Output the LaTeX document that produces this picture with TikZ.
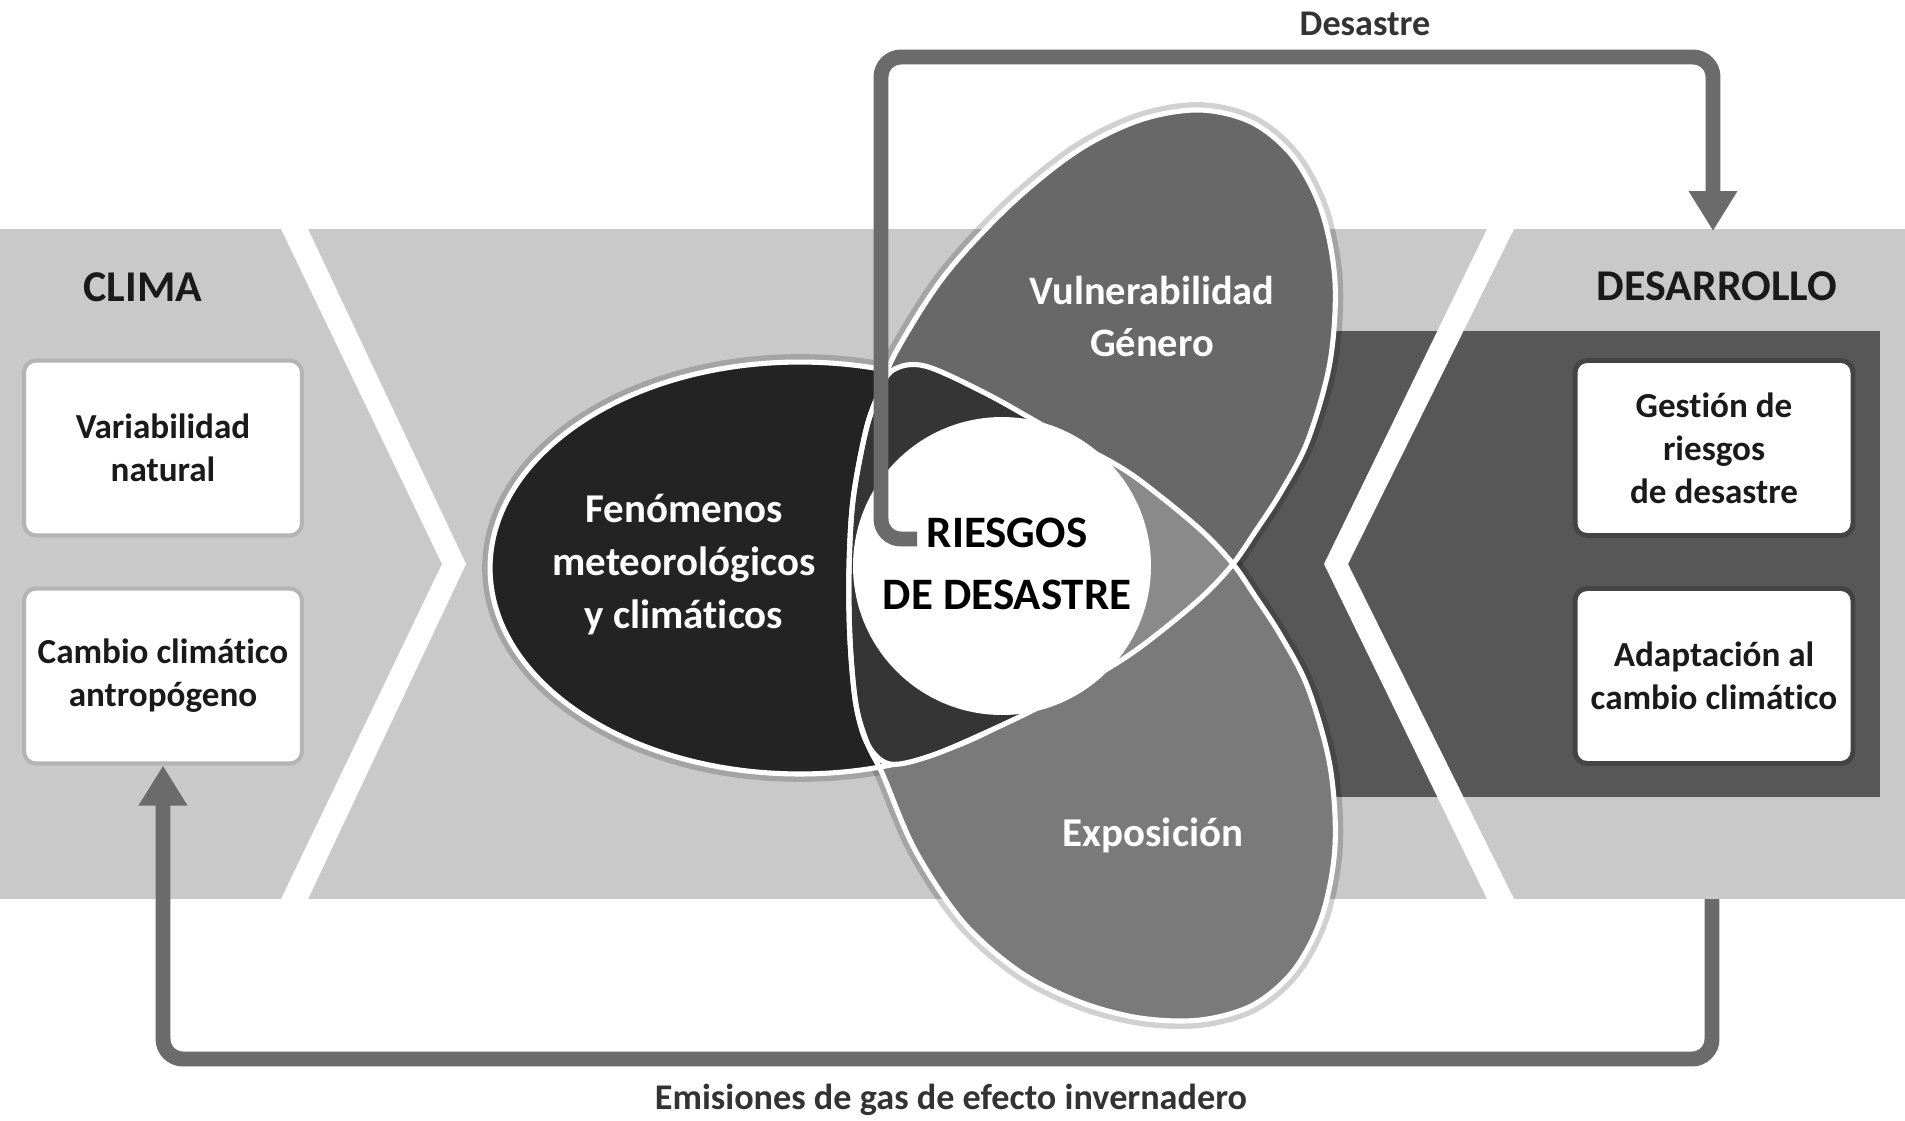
\documentclass[tikz,border=0pt]{standalone}
\usepackage{fontspec}
\setmainfont{Carlito}[Ligatures=NoCommon]
\usetikzlibrary{arrows.meta}
\definecolor{bandc}{HTML}{C9C9C9}
\definecolor{darkc}{HTML}{575757}
\definecolor{vulc}{HTML}{686868}
\definecolor{expc}{HTML}{7A7A7A}
\definecolor{lensc}{HTML}{8A8A8A}
\definecolor{fenc}{HTML}{232323}
\definecolor{fenlens}{HTML}{353535}
\definecolor{arrowc}{HTML}{6B6B6B}
\definecolor{txtc}{HTML}{1A1A1A}
\definecolor{lblc}{HTML}{333333}
\definecolor{edgeL}{HTML}{B4B4B4}
\definecolor{edgeR}{HTML}{444444}
\newcommand\fTitle{\fontsize{25}{30}\selectfont\bfseries}
\newcommand\fBoxT{\fontsize{20}{24.5}\selectfont\bfseries}
\newcommand\fLobe{\fontsize{23.3}{30.2}\selectfont\bfseries}
\newcommand\fVul{\fontsize{23}{29.6}\selectfont\bfseries}
\newcommand\fRisk{\fontsize{25.6}{35.3}\selectfont\bfseries}
\newcommand\fLbl{\fontsize{20.6}{24}\selectfont\bfseries}
\begin{document}
\begin{tikzpicture}[x=0.02cm,y=-0.02cm,
  vshape/.style={insert path={plot[smooth cycle,tension=0.55] coordinates {
    (1200,110) (1253,123) (1294,158) (1322,212) (1335,282) (1330,362) (1308,440) (1281,492)
    (1255,532) (1233,564) (1203,596) (1160,632) (1120,661) (1053,700) (987,732) (930,756)
    (890,764) (868,745) (856,705) (850,640) (849,570) (853,500) (866,430) (879,393)
    (897,350) (945,275) (1010,205) (1077,151) (1140,120)}}},
  eshape/.style={insert path={plot[smooth cycle,tension=0.55] coordinates {
    (1233,564) (1255,596) (1281,636) (1308,688) (1330,766) (1335,846) (1322,916) (1294,970)
    (1253,1005) (1200,1020) (1140,1018) (1080,1002) (1020,972) (963,922) (915,850) (883,775)
    (868,745) (856,705) (850,640) (849,570) (853,500) (866,430) (879,393) (893,370)
    (925,366) (987,394) (1053,431) (1120,467) (1160,496) (1203,532)}}},
  fshape/.style={insert path={(800,568) ellipse [x radius=6.2cm, y radius=4.12cm]}},
  fwide/.style={insert path={(810,566) ellipse [x radius=6.6cm, y radius=4.28cm]}},
  outl/.style={draw=white, line width=2.9pt},
  halo/.style={draw=black, draw opacity=0.18, line width=9pt},
  boxL/.style={fill=white, draw=edgeL, line width=2.3pt, rounded corners=0.24cm,
    minimum width=5.56cm, minimum height=3.5cm, inner sep=0pt, align=center,
    font=\fBoxT, text=txtc},
  boxR/.style={boxL, draw=edgeR, line width=2.8pt},
  title/.style={font=\fTitle, text=txtc, inner sep=0pt},
  lobe/.style={font=\fLobe, text=white, align=center, inner sep=0pt},
  lbl/.style={font=\fLbl, text=lblc, inner sep=0pt},
  flowarrow/.style={draw=arrowc, line width=8.5pt, rounded corners=0.4cm,
    -{Triangle[width=0.92cm,length=0.8cm]}}
]
\useasboundingbox (0,0) rectangle (1905,1120);
\fill[white] (0,0) rectangle (1905,1120);
% bands
\fill[bandc] (0,229) rectangle (1905,899);
\fill[darkc] (1100,331) rectangle (1880,797);
% chevron separators
\fill[white] (281,229) -- (308,229) -- (466,564) -- (308,899) -- (281,899) -- (442,564) -- cycle;
\fill[white] (1487,229) -- (1514,229) -- (1348,564) -- (1514,899) -- (1487,899) -- (1324,564) -- cycle;
% halos
\path[halo, vshape];
\path[halo, eshape];
\path[halo, fshape];
% lobes
\fill[vulc, vshape];
\fill[expc, eshape];
\fill[fenc, fshape];
\draw[outl, fshape];
\begin{scope}
  \clip[vshape];
  \fill[lensc, eshape];
  \clip[eshape];
  \fill[fenlens, fwide];
\end{scope}
\draw[outl, vshape];
\draw[outl, eshape];
\fill[white] (1002,566) circle [radius=2.98cm];
% lobe texts
\node[lobe] (fen) at (684,565) {Fenómenos\\meteorológicos\\y climáticos};
\node[lobe, font=\fVul] (vul) at (1152,316) {Vulnerabilidad\\Género};
\node[lobe] (expo) at (1153,835) {Exposición};
\node[font=\fRisk, text=black, align=center, inner sep=0pt] (riesgos) at (1007,564) {RIESGOS\\DE DESASTRE};
% titles
\node[title] (clima) at (143,287) {CLIMA};
\node[title] (desarrollo) at (1717,286) {DESARROLLO};
% boxes
\node[boxL] (var) at (163,448) {Variabilidad\\natural};
\node[boxL] (cambio) at (163,676) {Cambio climático\\antropógeno};
\node[boxR] (gestion) at (1714,448) {Gestión de\\riesgos\\de desastre};
\node[boxR] (adapt) at (1714,676) {Adaptación al\\cambio climático};
% arrows
\coordinate (dsStart) at (917,539);
\coordinate (dsTopL) at (881,57);
\coordinate (dsTopR) at (1713,57);
\coordinate (dsEnd) at (1713,231);
\draw[flowarrow] (dsStart) -| (dsTopL) -- (dsTopR) -- (dsEnd);
\coordinate (emStart) at (1712,899);
\coordinate (emBottomL) at (163,1059);
\draw[flowarrow] (emStart) |- (emBottomL) -- (cambio.south);
% labels
\node[lbl] (desastreLbl) at (1365,24) {Desastre};
\node[lbl] (emisLbl) at (951,1100) {Emisiones de gas de efecto invernadero};
\end{tikzpicture}
\end{document}
